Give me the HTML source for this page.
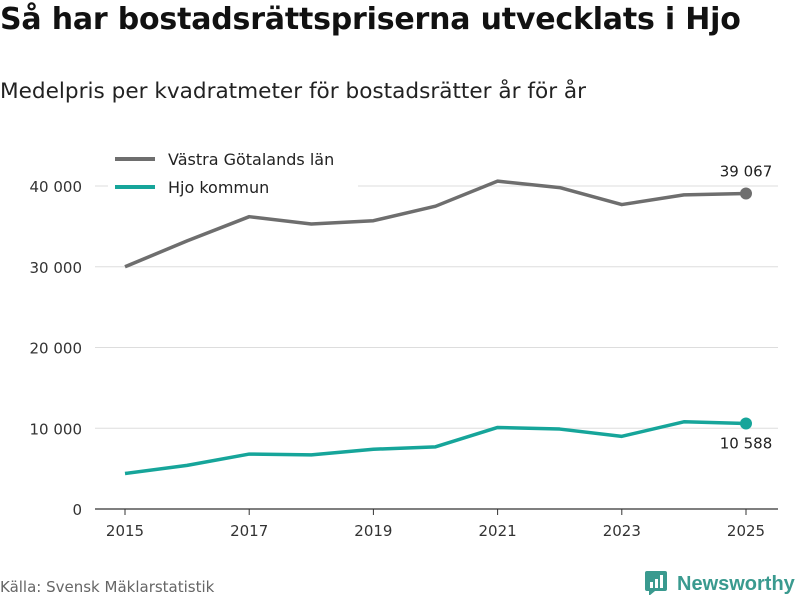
<!DOCTYPE html>
<html><head><meta charset="utf-8"><style>
body{margin:0;width:800px;height:600px;background:#fff;font-family:"DejaVu Sans","Liberation Sans",sans-serif;overflow:hidden;position:relative}
.t{position:absolute;left:0;top:2px;font-size:30px;font-weight:bold;color:#111;white-space:nowrap;letter-spacing:-0.2px}
.s{position:absolute;left:0;top:79px;font-size:21.6px;color:#222;white-space:nowrap}
.src{position:absolute;left:0;top:578px;font-size:15px;color:#666}
.logo{position:absolute;left:645px;top:569px;font-size:20px;color:#3a9a8f;font-weight:bold;white-space:nowrap;font-family:"Liberation Sans",sans-serif}
</style></head><body>
<div class="t">Så har bostadsrättspriserna utvecklats i Hjo</div>
<div class="s">Medelpris per kvadratmeter för bostadsrätter år för år</div>
<svg id="c" width="800" height="600" style="position:absolute;left:0;top:0"></svg>
<div class="src">Källa: Svensk Mäklarstatistik</div>
<div class="logo"><svg width="24" height="26" style="vertical-align:-5px;margin-right:8px"><rect x="0" y="2" width="22" height="20" rx="2" fill="#3a9a8f"/><polygon points="4,22 10,22 4,27" fill="#3a9a8f"/><rect x="5" y="13" width="3" height="6" fill="#fff"/><rect x="10" y="10" width="3" height="9" fill="#fff"/><rect x="15" y="6" width="3" height="13" fill="#fff"/></svg>Newsworthy</div>
<script>
const years=[2015,2016,2017,2018,2019,2020,2021,2022,2023,2024,2025];
const vg=[30000,33200,36200,35300,35700,37500,40600,39800,37700,38900,39067];
const hjo=[4400,5400,6800,6700,7400,7700,10100,9900,9000,10800,10588];
const yTicks=[0,10000,20000,30000,40000];
const xTicks=[2015,2017,2019,2021,2023,2025];
const NS="http://www.w3.org/2000/svg";
const svg=document.getElementById('c');
const x=v=>125+(v-2015)*62.1;
const y=v=>509-v*0.008075;
const fmt=v=>v.toLocaleString('en-US').replace(/,/g,' ');
function el(t,a,txt){const e=document.createElementNS(NS,t);for(const k in a)e.setAttribute(k,a[k]);if(txt!=null)e.textContent=txt;svg.appendChild(e);return e;}
yTicks.forEach(v=>{
 const g=el('line',{x1:95,x2:778,y1:y(v),y2:y(v),stroke:v?'#ddd':'#333','stroke-width':v?1:1.2});
 
 
 const t=el('text',{x:82,y:y(v)+6,'text-anchor':'end','font-size':15,fill:'#333'},fmt(v));
 
 
});
xTicks.forEach(v=>{
 const k=el('line',{x1:x(v),x2:x(v),y1:509,y2:515,stroke:'#333'});
 
 
 const t=el('text',{x:x(v),y:536,'text-anchor':'middle','font-size':15,fill:'#333'},v);
 
 
});
function series(vals,col,name,lbl,dy){
 const p=el('polyline',{points:vals.map((v,i)=>x(years[i])+','+y(v)).join(' '),fill:'none',stroke:col,'stroke-width':3.5,'stroke-linejoin':'round'});
 
 
 const n=vals.length-1;
 const c=el('circle',{cx:x(years[n]),cy:y(vals[n]),r:6,fill:col});
 
 
 const t=el('text',{x:x(years[n]),y:y(vals[n])+dy,'text-anchor':'middle','font-size':15,fill:'#222'},fmt(lbl));
 
 
}
series(vg,'#6e6e6e','vastra-gotaland',vg[vg.length-1],-17);
series(hjo,'#16a59a','hjo',hjo[hjo.length-1],25);
const bg=el('rect',{x:108,y:146,width:250,height:56,fill:'#fff'});


[['Västra Götalands län','#6e6e6e',159],['Hjo kommun','#16a59a',187]].forEach(([n,c,yy])=>{
 const l=el('line',{x1:115,x2:155,y1:yy,y2:yy,stroke:c,'stroke-width':4});
 
 
 const t=el('text',{x:168,y:yy+6,'font-size':16,fill:'#222'},n);
 
 
});
</script>
</body></html>
